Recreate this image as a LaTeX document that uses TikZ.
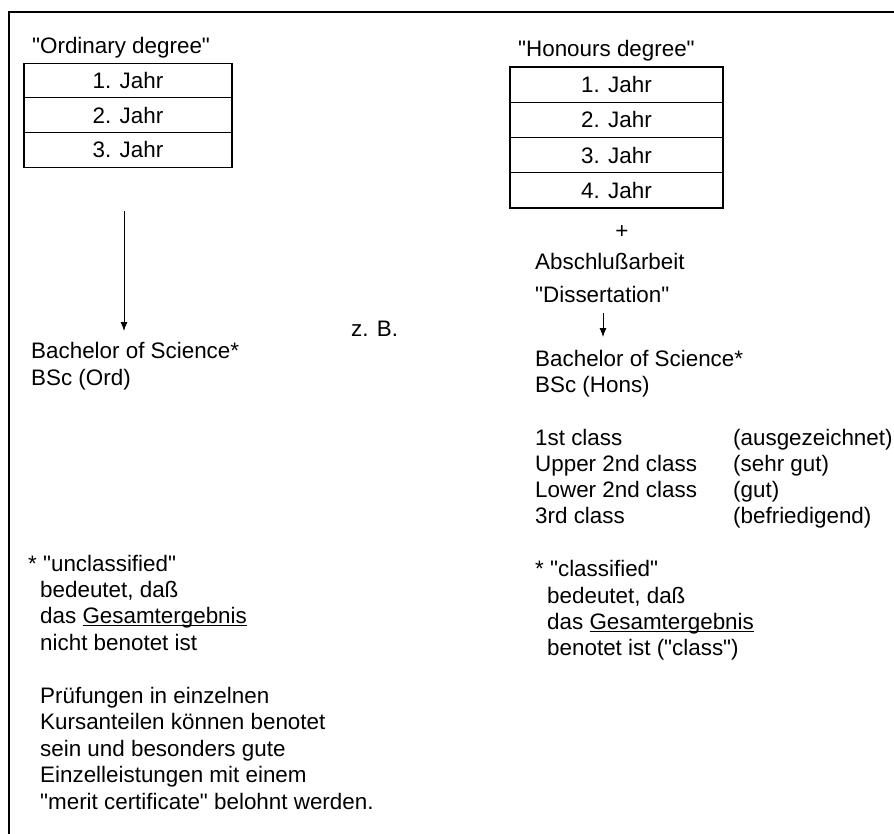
\documentclass[tikz,border=0pt]{standalone}
\usepackage{fontspec}
\setmainfont{Liberation Sans}[Ligatures=TeXOff]
\usetikzlibrary{arrows.meta}
\newcommand{\myul}[1]{\setbox0\hbox{#1}\rlap{\rule[-2.8pt]{\wd0}{1.1pt}}\box0}
\begin{document}
\begin{tikzpicture}[x=1pt,y=-1pt,
  txt/.style={anchor=base west, inner sep=0pt, font=\fontsize{22.4}{26}\selectfont},
  ctxt/.style={anchor=center, inner sep=0pt, font=\fontsize{22.4}{26}\selectfont},
  rowl/.style={draw, line width=1.1pt, minimum width=208pt, minimum height=34.7pt, inner sep=0pt, font=\fontsize{22.4}{26}\selectfont},
  rowr/.style={draw, line width=1.1pt, minimum width=213pt, minimum height=35.25pt, inner sep=0pt, font=\fontsize{22.4}{26}\selectfont},
  arr/.style={-{Latex[length=9pt,width=7pt]}, line width=0.9pt},
  frame/.style={line width=1.6pt}]
\useasboundingbox[fill=white] (0,0) rectangle (894,834);
% frame
\coordinate (fTR) at (894,12);
\coordinate (fTL) at (9,12);
\coordinate (fBL) at (9,834);
\draw[frame] (fTR) -- (fTL) -- (fBL);

% left column
\node[txt] (t1) at (32,54) {"Ordinary degree"};
\node[rowl] (l1) at (128,80.5) {1. Jahr};
\node[rowl] (l2) at (128,115.2) {2. Jahr};
\node[rowl] (l3) at (128,149.9) {3. Jahr};
\coordinate (a1s) at (124,211);
\coordinate (a1e) at (124,331);
\draw[arr] (a1s) -- (a1e);
\node[txt] (b1) at (31,358) {Bachelor of Science*};
\node[txt] (b1b) at (31,385) {BSc (Ord)};
\node[txt] (zb) at (351,336) {z. B.};

\node[txt] (f1a) at (28,571) {* "unclassified"};
\node[txt] (f1b) at (40,597.5) {bedeutet, daß};
\node[txt] (f1c) at (40,623.5) {das \myul{Gesamtergebnis}};
\node[txt] (f1d) at (40,650) {nicht benotet ist};

\node[txt] (p1) at (40,703) {Prüfungen in einzelnen};
\node[txt] (p2) at (40,729.5) {Kursanteilen können benotet};
\node[txt] (p3) at (40,756) {sein und besonders gute};
\node[txt] (p4) at (40,782.5) {Einzelleistungen mit einem};
\node[txt] (p5) at (40,809) {"merit certificate" belohnt werden.};

% right column
\node[txt] (t2) at (518,57) {"Honours degree"};
\node[rowr] (r1) at (616.5,84.6) {1. Jahr};
\node[rowr] (r2) at (616.5,119.85) {2. Jahr};
\node[rowr] (r3) at (616.5,155.1) {3. Jahr};
\node[rowr] (r4) at (616.5,190.35) {4. Jahr};
\node[ctxt] (plus) at (622,232) {+};
\node[txt] (ab) at (535,270) {Abschlußarbeit};
\node[txt] (di) at (535,302) {"Dissertation"};
\coordinate (a2s) at (603,313);
\coordinate (a2e) at (603,337);
\draw[arr] (a2s) -- (a2e);
\node[txt] (b2) at (535,366) {Bachelor of Science*};
\node[txt] (b2b) at (535,392) {BSc (Hons)};

\node[txt] (c1) at (535,445) {1st class};
\node[txt] (c2) at (535,471) {Upper 2nd class};
\node[txt] (c3) at (535,497) {Lower 2nd class};
\node[txt] (c4) at (535,523) {3rd class};
\node[txt] (g1) at (733,445) {(ausgezeichnet)};
\node[txt] (g2) at (733,471) {(sehr gut)};
\node[txt] (g3) at (733,497) {(gut)};
\node[txt] (g4) at (733,523) {(befriedigend)};

\node[txt] (f2a) at (535,576) {* "classified"};
\node[txt] (f2b) at (547,603) {bedeutet, daß};
\node[txt] (f2c) at (547,629) {das \myul{Gesamtergebnis}};
\node[txt] (f2d) at (547,655) {benotet ist ("class")};
\end{tikzpicture}
\end{document}
